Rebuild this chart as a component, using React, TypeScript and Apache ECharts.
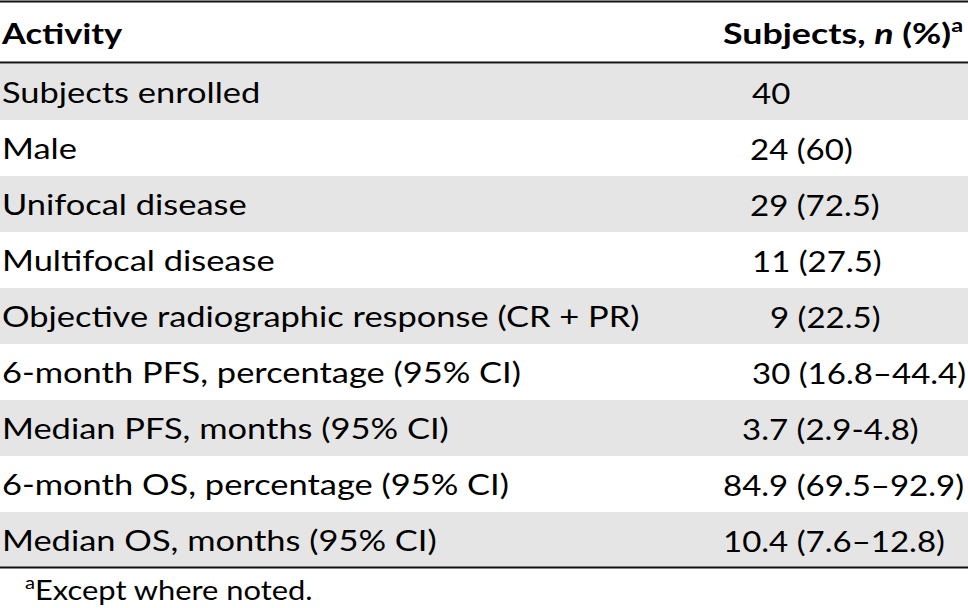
import React, { useEffect, useRef } from 'react';
import * as echarts from 'echarts';

// ---- table content ----
const headerActivity = 'Activity';
const headerSubjectsParts = ['Subjects, ', 'n', ' (%)', 'a'];
const activities = [
  'Subjects enrolled',
  'Male',
  'Unifocal disease',
  'Multifocal disease',
  'Objective radiographic response (CR + PR)',
  '6-month PFS, percentage (95% CI)',
  'Median PFS, months (95% CI)',
  '6-month OS, percentage (95% CI)',
  'Median OS, months (95% CI)',
];
const subjectValues = [
  '40',
  '24 (60)',
  '29 (72.5)',
  '11 (27.5)',
  '9 (22.5)',
  '30 (16.8–44.4)',
  '3.7 (2.9-4.8)',
  '84.9 (69.5–92.9)',
  '10.4 (7.6–12.8)',
];
const footnoteMark = 'a';
const footnoteText = 'Except where noted.';

// ---- layout (not data) ----
const W = 968;
const H = 608;
const FONT = 'Lato';
const FS = 29;
const ROW_TOP = 64;
const ROW_H = 56;
const VALUE_LEFT = [752, 750, 750, 752, 770, 752, 742, 723, 723];
const GRAY = '#e5e5e5';

function measure(text: string, font: string): number {
  const c = document.createElement('canvas');
  const ctx = c.getContext('2d');
  if (!ctx) return text.length * FS * 0.5;
  ctx.font = font;
  return ctx.measureText(text).width;
}

export default function App() {
  const ref = useRef<HTMLDivElement>(null);
  useEffect(() => {
    if (!ref.current) return;
    const chart = echarts.init(ref.current, null, { renderer: 'svg', width: W, height: H });
    const wLeft = measure(activities[4], `${FS}px ${FONT}`);
    const sx = wLeft > 0 ? 638 / wLeft : 1;
    const wRight = measure(subjectValues[7], `${FS}px ${FONT}`);
    const sxV = wRight > 0 ? 241 / wRight : 1;
    const wHead =
      measure('Subjects,  (%)', `bold ${FS}px ${FONT}`) +
      measure('n', `italic bold ${FS}px ${FONT}`) +
      measure('a', `bold 19px ${FONT}`);
    const sxH = wHead > 0 ? 240 / wHead : 1;

    const elements: any[] = [];
    activities.forEach((_, i) => {
      if (i % 2 === 0) {
        elements.push({
          type: 'rect',
          shape: { x: 0, y: ROW_TOP + i * ROW_H, width: W, height: ROW_H },
          style: { fill: GRAY },
          silent: true,
        });
      }
    });
    const lineY = [1.5, 62.5, ROW_TOP + activities.length * ROW_H - 0.5];
    lineY.forEach((y) => {
      elements.push({
        type: 'line',
        shape: { x1: 0, y1: y, x2: W, y2: y },
        style: { stroke: '#111', lineWidth: 2.2 },
        silent: true,
      });
    });
    elements.push({
      type: 'text',
      x: 2,
      y: 33,
      scaleX: sx,
      style: {
        text: headerActivity,
        font: `bold ${FS}px ${FONT}`,
        fill: '#000',
        verticalAlign: 'middle',
        align: 'left',
      },
    });
    elements.push({
      type: 'text',
      x: 723,
      y: 33,
      scaleX: sxH,
      style: {
        text: `{b|${headerSubjectsParts[0]}}{bi|${headerSubjectsParts[1]}}{b|${headerSubjectsParts[2]}}{sup|${headerSubjectsParts[3]}}`,
        verticalAlign: 'middle',
        align: 'left',
        fill: '#000',
        rich: {
          b: { fontFamily: FONT, fontWeight: 'bold', fontSize: FS, lineHeight: 36, fill: '#000' },
          bi: { fontFamily: FONT, fontWeight: 'bold', fontStyle: 'italic', fontSize: FS, lineHeight: 36, fill: '#000' },
          sup: { fontFamily: FONT, fontWeight: 'bold', fontSize: 19, lineHeight: 20, verticalAlign: 'top', fill: '#000' },
        },
      },
    });
    activities.forEach((a, i) => {
      const cy = ROW_TOP + i * ROW_H + 28.5;
      elements.push({
        type: 'text',
        x: 2,
        y: cy,
        scaleX: sx,
        style: { text: a, font: `${FS}px ${FONT}`, fill: '#000', verticalAlign: 'middle', align: 'left' },
      });
      elements.push({
        type: 'text',
        x: VALUE_LEFT[i],
        y: cy,
        scaleX: sxV,
        style: { text: subjectValues[i], font: `${FS}px ${FONT}`, fill: '#000', verticalAlign: 'middle', align: 'left' },
      });
    });
    elements.push({
      type: 'text',
      x: 25,
      y: 590,
      scaleX: sx,
      style: {
        text: `{sup|${footnoteMark}}{t|${footnoteText}}`,
        verticalAlign: 'middle',
        align: 'left',
        fill: '#000',
        rich: {
          t: { fontFamily: FONT, fontSize: 26, lineHeight: 32, fill: '#000' },
          sup: { fontFamily: FONT, fontSize: 17, lineHeight: 18, verticalAlign: 'top', fill: '#000' },
        },
      },
    });

    chart.setOption({
      animation: false,
      backgroundColor: '#fff',
      graphic: { elements },
    });
    return () => chart.dispose();
  }, []);
  return (
    <div
      ref={ref}
      style={{ position: 'fixed', left: 0, top: 0, width: W, height: H, background: '#fff' }}
    />
  );
}
